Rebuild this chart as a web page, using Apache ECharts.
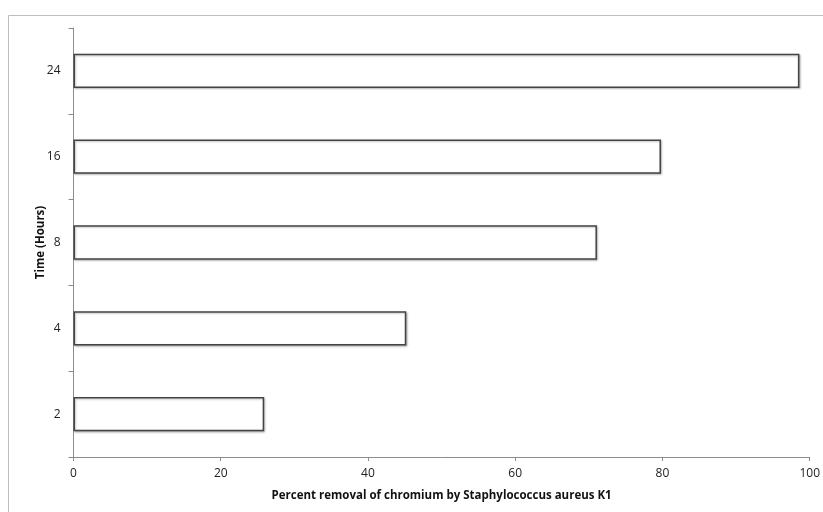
<!DOCTYPE html>
<html><head><meta charset="utf-8">
<script src="https://cdn.jsdelivr.net/npm/echarts@6/dist/echarts.min.js"></script>
<style>html,body{margin:0;padding:0;background:#fff}#c{width:823px;height:512px}</style>
</head><body><div id="c"></div>
<script>
const categories = ['2', '4', '8', '16', '24'];
const removal = [25.9, 45.2, 71.1, 79.8, 98.6];
const xTicks = [0, 20, 40, 60, 80, 100];

const chart = echarts.init(document.getElementById('c'));
chart.setOption({
  animation: false,
  backgroundColor: '#fff',
  textStyle: { fontFamily: 'Open Sans' },
  graphic: [{
    type: 'rect', left: 6, top: 13, shape: { width: 900, height: 600 },
    style: { fill: 'none', stroke: '#bdbdbd', lineWidth: 1 }, silent: true
  }],
  grid: { left: 73.5, right: 10.5, top: 28, bottom: 55 },
  xAxis: {
    type: 'value', min: xTicks[0], max: xTicks[xTicks.length - 1], interval: 20,
    name: 'Percent removal of chromium by Staphylococcus aureus K1',
    nameLocation: 'middle', nameGap: 33, nameMoveOverlap: false,
    nameTextStyle: { fontWeight: 'bold', fontSize: 11.5, color: '#111' },
    axisLine: { show: true, lineStyle: { color: '#8c8c8c' } },
    axisTick: { show: true, length: 4, lineStyle: { color: '#8c8c8c' } },
    axisLabel: { fontSize: 12, color: '#222', margin: 11 },
    splitLine: { show: false }
  },
  yAxis: {
    type: 'category', data: categories,
    name: 'Time (Hours)', nameLocation: 'middle', nameGap: 27, nameRotate: 90, nameMoveOverlap: false,
    nameTextStyle: { fontWeight: 'bold', fontSize: 11.5, color: '#111' },
    axisLine: { show: true, lineStyle: { color: '#8c8c8c' } },
    axisTick: { show: true, length: 5, lineStyle: { color: '#8c8c8c' } },
    axisLabel: { fontSize: 12, color: '#222', margin: 13 }
  },
  series: [{
    type: 'bar', data: removal, barCategoryGap: '60%',
    itemStyle: {
      color: '#fff', borderColor: '#444', borderWidth: 1.5,
      shadowColor: 'rgba(0,0,0,0.25)', shadowBlur: 2, shadowOffsetX: 1, shadowOffsetY: 1
    }
  }]
});
</script></body></html>
